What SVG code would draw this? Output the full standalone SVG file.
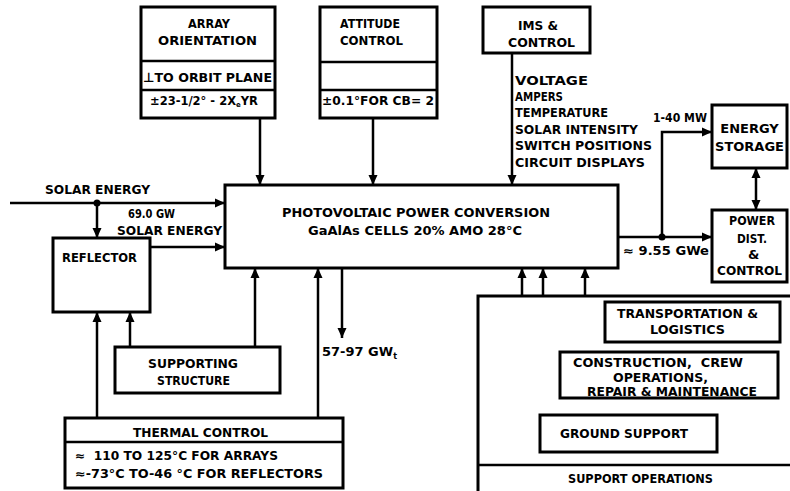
<svg xmlns="http://www.w3.org/2000/svg" width="790" height="491" viewBox="0 0 790 491">
<defs>
<marker id="ah" markerUnits="userSpaceOnUse" markerWidth="10" markerHeight="10" refX="10" refY="5" orient="auto-start-reverse" viewBox="0 0 10 10">
<path d="M0,0.5 L10,5 L0,9.5 z" fill="#000"/>
</marker>
</defs>
<style>
.box{fill:#fff;stroke:#000;stroke-width:3}
.div{stroke:#000;stroke-width:2.5;fill:none}
.ln{stroke:#000;stroke-width:2.5;fill:none}
.arr{stroke:#000;stroke-width:2.5;fill:none;marker-end:url(#ah)}
text{font-family:"DejaVu Sans","Liberation Sans",sans-serif;font-weight:bold;font-size:13px;fill:#000}
.sm{font-size:11.5px}
</style>
<rect width="790" height="491" fill="#fff"/>

<g id="connectors">
<path class="arr" d="M260 118 V185"/>
<path class="arr" d="M373 118 V185"/>
<path class="arr" d="M512 53 V185"/>
<path class="arr" d="M10 203 H225"/>
<path class="arr" d="M97 203 V238"/>
<path class="arr" d="M150 247 H225"/>
<path class="arr" d="M97 418 V312"/>
<path class="arr" d="M130 347 V312"/>
<path class="arr" d="M255 347 V268"/>
<path class="arr" d="M318 418 V268"/>
<path class="arr" d="M342 268 V338"/>
<path class="arr" d="M618 237 H712"/>
<path class="arr" d="M662 237 V132 H712"/>
<path class="arr" d="M756 168 V210" marker-start="url(#ah)"/>
<path class="arr" d="M540 433 H522 V268"/>
<path class="arr" d="M560 377 H543 V268"/>
<path class="arr" d="M605 319 H585 V268"/>
<circle cx="97" cy="203" r="3.5"/>
<circle cx="662" cy="237" r="3.5"/>
</g>

<g id="array-orientation">
<rect class="box" x="141" y="7" width="134" height="111"/>
<line class="div" x1="141" y1="61" x2="275" y2="61"/>
<line class="div" x1="141" y1="90" x2="275" y2="90"/>
<text x="188" y="28" textLength="42" lengthAdjust="spacingAndGlyphs">ARRAY</text>
<text x="158" y="45" textLength="99" lengthAdjust="spacingAndGlyphs">ORIENTATION</text>
<text x="143" y="82" textLength="129" lengthAdjust="spacingAndGlyphs">⊥TO ORBIT PLANE</text>
<text x="150" y="105" class="sm">±23-1/2° - 2X<tspan font-size="7" dy="2">e</tspan><tspan dy="-2">YR</tspan></text>
</g>

<g id="attitude-control">
<rect class="box" x="320" y="7" width="117" height="111"/>
<line class="div" x1="320" y1="62" x2="437" y2="62"/>
<line class="div" x1="320" y1="90" x2="437" y2="90"/>
<text x="340" y="28" textLength="60" lengthAdjust="spacingAndGlyphs">ATTITUDE</text>
<text x="340" y="45" textLength="63" lengthAdjust="spacingAndGlyphs">CONTROL</text>
<text x="322" y="105" textLength="112" lengthAdjust="spacingAndGlyphs" class="sm">±0.1°FOR CB= 2</text>
</g>

<g id="ims-control">
<rect class="box" x="483" y="7" width="107" height="46"/>
<text x="518" y="30" textLength="40" lengthAdjust="spacingAndGlyphs">IMS &amp;</text>
<text x="508" y="47" textLength="67" lengthAdjust="spacingAndGlyphs">CONTROL</text>
<text x="515" y="85" textLength="73" lengthAdjust="spacingAndGlyphs" class="sm">VOLTAGE</text>
<text x="515" y="101" textLength="48" lengthAdjust="spacingAndGlyphs" class="sm">AMPERS</text>
<text x="515" y="117" textLength="93" lengthAdjust="spacingAndGlyphs" class="sm">TEMPERATURE</text>
<text x="515" y="134" textLength="123" lengthAdjust="spacingAndGlyphs" class="sm">SOLAR INTENSITY</text>
<text x="515" y="150" textLength="137" lengthAdjust="spacingAndGlyphs" class="sm">SWITCH POSITIONS</text>
<text x="515" y="167" textLength="130" lengthAdjust="spacingAndGlyphs" class="sm">CIRCUIT DISPLAYS</text>
</g>

<g id="energy-storage">
<rect class="box" x="712" y="105" width="75" height="63"/>
<text x="749.5" y="133" text-anchor="middle" font-size="12">ENERGY</text>
<text x="749.5" y="151" text-anchor="middle" font-size="11">STORAGE</text>
<text x="653" y="122" textLength="54" lengthAdjust="spacingAndGlyphs" class="sm">1-40 MW</text>
</g>

<g id="power-dist">
<rect class="box" x="712" y="210" width="75" height="72"/>
<text x="729" y="225" textLength="46" lengthAdjust="spacingAndGlyphs">POWER</text>
<text x="737" y="243" textLength="30" lengthAdjust="spacingAndGlyphs">DIST.</text>
<text x="748" y="259">&amp;</text>
<text x="717" y="275" textLength="65" lengthAdjust="spacingAndGlyphs" font-size="12">CONTROL</text>
<text x="623" y="255" textLength="86" lengthAdjust="spacingAndGlyphs" class="sm">≈ 9.55 GWe</text>
</g>

<g id="pv-conversion">
<rect class="box" x="225" y="185" width="393" height="83"/>
<text x="282" y="217" textLength="268" lengthAdjust="spacingAndGlyphs">PHOTOVOLTAIC POWER CONVERSION</text>
<text x="308" y="235" textLength="214" lengthAdjust="spacingAndGlyphs">GaAlAs CELLS  20% AMO  28°C</text>
</g>

<g id="solar-labels">
<text x="45" y="194" textLength="105" lengthAdjust="spacingAndGlyphs">SOLAR ENERGY</text>
<text x="128" y="218" textLength="47" lengthAdjust="spacingAndGlyphs">69.0 GW</text>
<text x="117" y="235" textLength="105" lengthAdjust="spacingAndGlyphs">SOLAR ENERGY</text>
</g>

<g id="reflector">
<rect class="box" x="53" y="238" width="97" height="74"/>
<text x="62" y="262" textLength="75" lengthAdjust="spacingAndGlyphs">REFLECTOR</text>
</g>

<g id="supporting-structure">
<rect class="box" x="115" y="347" width="165" height="46"/>
<text x="148" y="368" textLength="90" lengthAdjust="spacingAndGlyphs">SUPPORTING</text>
<text x="157" y="385" textLength="73" lengthAdjust="spacingAndGlyphs">STRUCTURE</text>
</g>

<g id="thermal-output">
<text x="322" y="356">57-97 GW<tspan font-size="8" dy="3">t</tspan></text>
</g>

<g id="thermal-control">
<rect class="box" x="65" y="418" width="278" height="70"/>
<line class="div" x1="65" y1="442" x2="343" y2="442"/>
<text x="133" y="437" textLength="135" lengthAdjust="spacingAndGlyphs">THERMAL CONTROL</text>
<text x="75" y="460" textLength="203" lengthAdjust="spacingAndGlyphs" class="sm" xml:space="preserve">≈  110 TO 125°C FOR ARRAYS</text>
<text x="75" y="478" textLength="248" lengthAdjust="spacingAndGlyphs" class="sm">≈-73°C TO-46 °C FOR REFLECTORS</text>
</g>

<g id="support-operations">
<rect class="box" x="478" y="296" width="330" height="210"/>
<line class="div" x1="478" y1="465" x2="790" y2="465"/>
<text x="568" y="483" textLength="145" lengthAdjust="spacingAndGlyphs">SUPPORT OPERATIONS</text>
</g>

<g id="transportation">
<rect class="box" x="605" y="302" width="175" height="40"/>
<text x="617" y="318" textLength="141" lengthAdjust="spacingAndGlyphs" class="sm">TRANSPORTATION &amp;</text>
<text x="650" y="334" textLength="75" lengthAdjust="spacingAndGlyphs" class="sm">LOGISTICS</text>
</g>

<g id="construction">
<rect class="box" x="560" y="352" width="218" height="46"/>
<text x="573" y="367" textLength="170" lengthAdjust="spacingAndGlyphs" class="sm" xml:space="preserve">CONSTRUCTION,  CREW</text>
<text x="613" y="382" textLength="95" lengthAdjust="spacingAndGlyphs" class="sm">OPERATIONS,</text>
<text x="587" y="396" textLength="170" lengthAdjust="spacingAndGlyphs" font-size="10.5">REPAIR &amp; MAINTENANCE</text>
</g>

<g id="ground-support">
<rect class="box" x="540" y="415" width="177" height="37"/>
<text x="560" y="438" textLength="128" lengthAdjust="spacingAndGlyphs">GROUND SUPPORT</text>
</g>
</svg>
